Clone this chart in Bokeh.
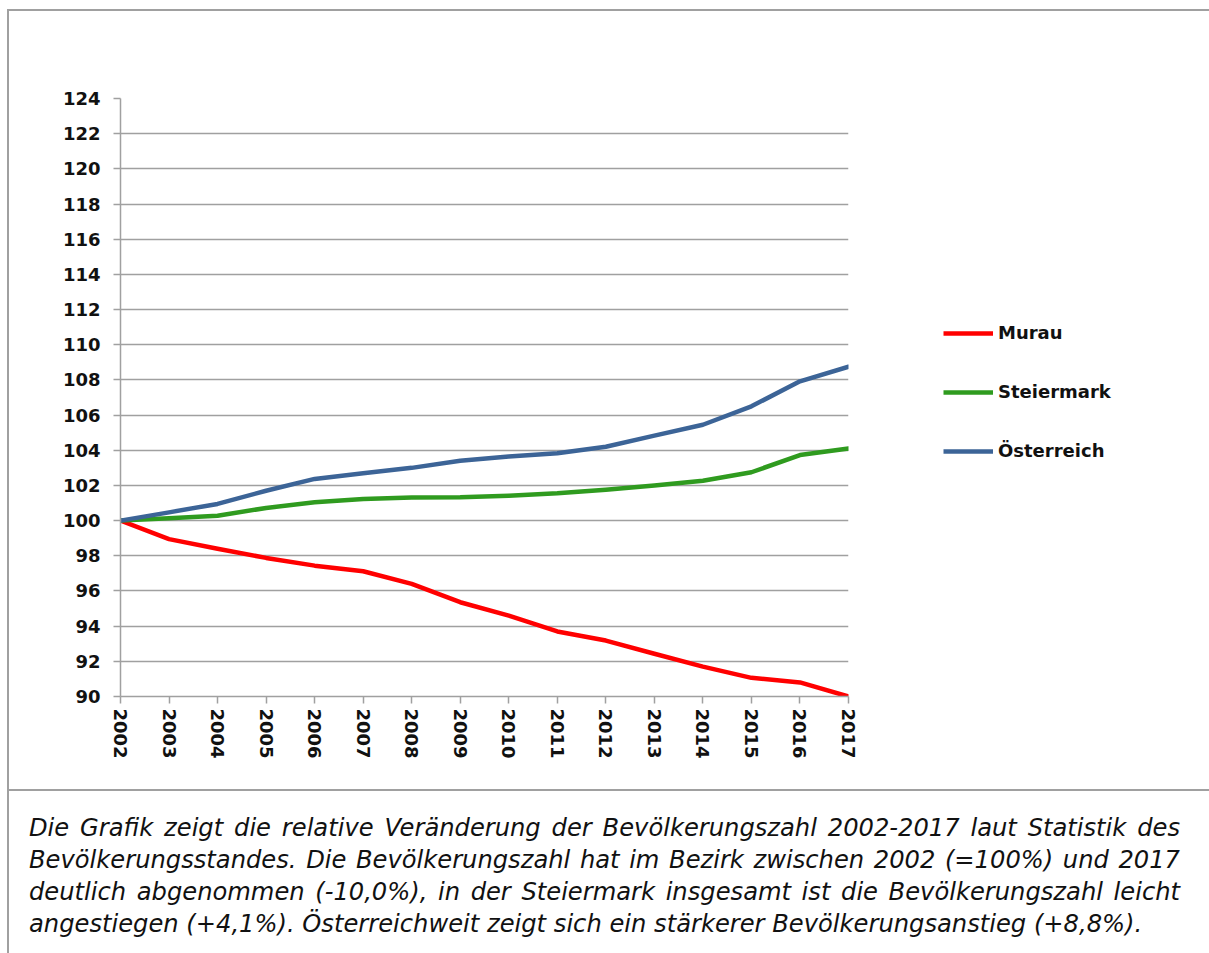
from bokeh.plotting import figure
from bokeh.layouts import column, row
from bokeh.models import Range1d, FixedTicker, Legend, LegendItem, Div
from bokeh.embed import file_html
from bokeh.resources import INLINE

# ---------------- data ----------------
years = list(range(2002, 2018))
murau = [100.0, 98.95, 98.4, 97.88, 97.44, 97.12, 96.4, 95.36,
         94.6, 93.7, 93.18, 92.43, 91.7, 91.06, 90.8, 90.0]
steiermark = [100.0, 100.13, 100.28, 100.72, 101.04, 101.23, 101.31, 101.33,
              101.42, 101.55, 101.76, 101.99, 102.27, 102.75, 103.73, 104.1]
oesterreich = [100.0, 100.47, 100.95, 101.7, 102.37, 102.69, 103.0, 103.4,
               103.64, 103.83, 104.2, 104.83, 105.45, 106.5, 107.92, 108.75]
series_names = ["Murau", "Steiermark", "Österreich"]
series_colors = ["#FF0000", "#2F9B1F", "#3C6497"]
y_ticks = list(range(90, 125, 2))
caption_lines = [
    "Die Grafik zeigt die relative Veränderung der Bevölkerungszahl 2002-2017 laut Statistik des",
    "Bevölkerungsstandes. Die Bevölkerungszahl hat im Bezirk zwischen 2002 (=100%) und 2017",
    "deutlich abgenommen (-10,0%), in der Steiermark insgesamt ist die Bevölkerungszahl leicht",
    "angestiegen (+4,1%). Österreichweit zeigt sich ein stärkerer Bevölkerungsanstieg (+8,8%).",
]

GRAY = "#a0a0a0"
FONT = "DejaVu Sans"
TOTAL_W, H = 1200, 778
FL, FT, FBOT, FRIGHT = 111, 87, 93, 12   # chart borders in px
FRAME_W = 728
CW = FL + FRAME_W + FRIGHT               # chart figure width
LW = TOTAL_W - CW                        # legend figure width
series = [murau, steiermark, oesterreich]

# ---------------- chart figure ----------------
p = figure(width=CW, height=H, output_backend="svg", toolbar_location=None,
           x_range=Range1d(years[0], years[-1]), y_range=Range1d(y_ticks[0], y_ticks[-1]),
           min_border_left=FL, min_border_right=FRIGHT,
           min_border_top=FT, min_border_bottom=FBOT)
p.outline_line_color = None

p.xaxis.ticker = FixedTicker(ticks=years)
p.yaxis.ticker = FixedTicker(ticks=y_ticks)
for ax in (p.xaxis[0], p.yaxis[0]):
    ax.axis_line_color = GRAY
    ax.axis_line_width = 1.5
    ax.major_tick_line_color = GRAY
    ax.major_tick_line_width = 1.5
    ax.major_tick_out = 7
    ax.major_tick_in = 0
    ax.minor_tick_line_color = None
    ax.major_label_text_font = FONT
    ax.major_label_text_font_style = "bold"
    ax.major_label_text_font_size = "18px"
    ax.major_label_text_color = "#111111"
p.xaxis.major_label_orientation = "vertical"
p.xaxis.major_label_standoff = 5
p.yaxis.major_label_standoff = 13

p.xgrid.grid_line_color = None
p.ygrid.ticker = FixedTicker(ticks=y_ticks)
p.ygrid.grid_line_color = GRAY
p.ygrid.grid_line_width = 1.5

for vals, col in zip(series, series_colors):
    p.line(years, vals, line_color=col, line_width=4.5,
           line_join="round", line_cap="round")

# ---------------- legend figure (key only; its ranges keep the series out of view) ----------------
lf = figure(width=LW, height=H, output_backend="svg", toolbar_location=None,
            x_range=Range1d(0, 1), y_range=Range1d(0, 1),
            x_axis_location=None, y_axis_location=None,
            min_border_left=0, min_border_right=0,
            min_border_top=FT, min_border_bottom=FBOT)
lf.outline_line_color = None
lf.grid.visible = False
key_renderers = [lf.line(years, vals, line_color=c, line_width=4.5)
                 for vals, c in zip(series, series_colors)]
legend = Legend(items=[LegendItem(label=n, renderers=[r])
                       for n, r in zip(series_names, key_renderers)],
                location=(83, 235), orientation="vertical",
                glyph_width=50, glyph_height=20, label_height=20,
                spacing=38, padding=0, margin=0, label_standoff=5,
                border_line_color=None, background_fill_alpha=0,
                label_text_font=FONT, label_text_font_style="bold",
                label_text_font_size="18px", label_text_color="#111111")
lf.add_layout(legend, "center")

top = row(p, lf, spacing=0, styles={"border-bottom": "2px solid " + GRAY})

# ---------------- caption ----------------
line_html = []
for i, line in enumerate(caption_lines):
    last = "left" if i == len(caption_lines) - 1 else "justify"
    line_html.append(
        f'<div style="text-align:justify;text-align-last:{last};'
        f'height:32px;line-height:32px;">{line}</div>')
cap_html = (f'<div style="width:1166px;padding:16px 0 0 15px;font-family:\'{FONT}\';'
            'font-style:italic;font-size:24.2px;color:#111111;">'
            + "".join(line_html) + '</div>')
cap = Div(text=cap_html, width=TOTAL_W, height=152)

root = column(top, cap, spacing=0,
              styles={"border-left": "2px solid " + GRAY,
                      "border-top": "2px solid " + GRAY,
                      "margin-left": "7px", "margin-top": "9px"})

open("out.html", "w").write(file_html(root, INLINE))
